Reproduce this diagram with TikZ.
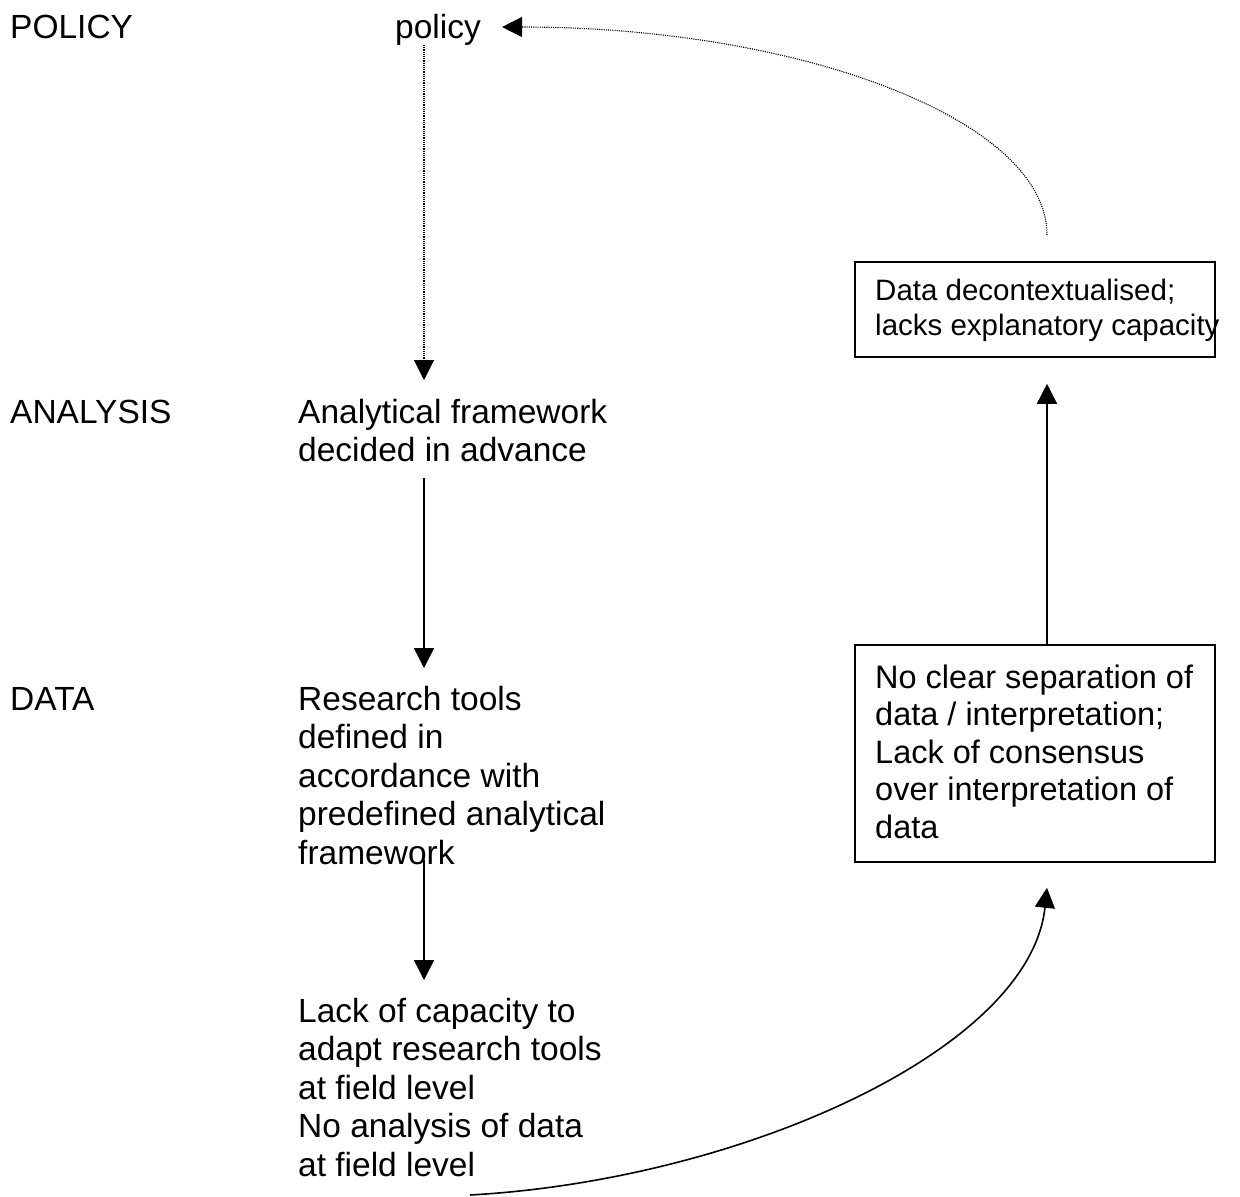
\documentclass[tikz,border=0pt]{standalone}
\usepackage{fontspec}
\setmainfont{Liberation Sans}
\usetikzlibrary{arrows.meta}
\begin{document}
\begin{tikzpicture}[x=1pt,y=-1pt,
  txt/.style={font=\fontsize{33.5}{38.5}\selectfont, inner sep=0pt, align=left, anchor=base west},
  boxframe/.style={draw, line width=1.6pt, inner sep=0pt, minimum width=360pt},
  arr/.style={line width=1.6pt, -{Triangle[length=20pt,width=20pt]}},
  dotarr/.style={line width=1.1pt, dash pattern=on 1.1pt off 1.1pt, -{Triangle[length=20pt,width=20pt]}}
]
\useasboundingbox (0,0) rectangle (1240,1197);

\node[txt] (lpol) at (10,38) {POLICY};
\node[txt] (lana) at (10,423) {ANALYSIS};
\node[txt] (ldat) at (10,710) {DATA};

\node[txt] (pol) at (395,38) {policy};
\node[txt] (ana) at (298,461.5) {Analytical framework\\decided in advance};
\node[txt] (res) at (298,864) {Research tools\\defined in\\accordance with\\predefined analytical\\framework};
\node[txt] (lack) at (298,1176) {Lack of capacity to\\adapt research tools\\at field level\\No analysis of data\\at field level};

\node[boxframe, minimum height=95pt] (dec) at (1035,309.5) {};
\node[txt, font=\fontsize{29.5}{35}\selectfont] (dectxt) at (875,335) {Data decontextualised;\\lacks explanatory capacity};
\node[boxframe, minimum height=217pt] (sep) at (1035,753.5) {};
\node[txt, font=\fontsize{32.5}{37.5}\selectfont] (septxt) at (875,838) {No clear separation of\\data / interpretation;\\Lack of consensus\\over interpretation of\\data};

\coordinate (polout) at (424,45);
\coordinate (anain) at (424,380);
\coordinate (anaout) at (424,478);
\coordinate (resin) at (424,668);
\coordinate (resout) at (424,860);
\coordinate (lackin) at (424,980);
\coordinate (lackout) at (470,1195);
\coordinate (decup) at (1047,235);

\draw[dotarr] (polout) -- (anain);
\draw[arr] (anaout) -- (resin);
\draw[arr] (resout) -- (lackin);
\draw[arr] (lackout) .. controls (740,1180) and (1030,1050) .. ([yshift=-25pt]sep.south -| decup);
\draw[arr] (sep.north -| decup) -- ([yshift=-26pt]dec.south -| decup);
\draw[dotarr] (decup) .. controls (1047,120) and (801,27) .. ([xshift=21pt]pol.east |- 0,27);
\end{tikzpicture}
\end{document}
